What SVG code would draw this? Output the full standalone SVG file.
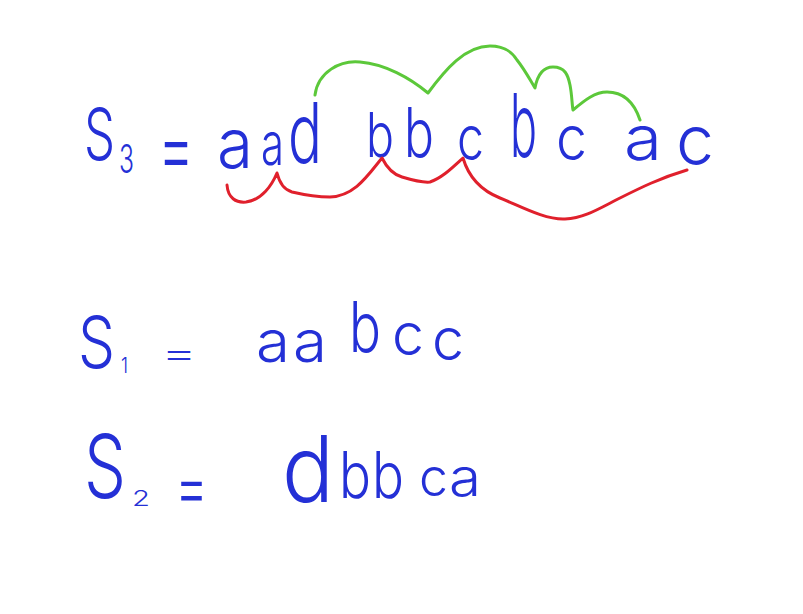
<svg xmlns="http://www.w3.org/2000/svg" width="803" height="614" viewBox="0 0 803 614">
<style>
text{font-family:Inter,"Liberation Sans",sans-serif;font-weight:300;fill:#2430d6}
.g{fill:none;stroke:#5cc83a;stroke-width:3;stroke-linecap:round;stroke-linejoin:round}
.r{fill:none;stroke:#e0202c;stroke-width:3;stroke-linecap:round;stroke-linejoin:round}
</style>
<rect width="803" height="614" fill="#ffffff"/>
<g id="s3">
<text x="84" y="160" font-size="72" textLength="31" lengthAdjust="spacingAndGlyphs">S</text>
<text x="119" y="173" font-size="40" textLength="15" lengthAdjust="spacingAndGlyphs">3</text>
<text x="158" y="178" font-size="86" textLength="36" lengthAdjust="spacingAndGlyphs">=</text>
<text x="217" y="168" font-size="70" textLength="36" lengthAdjust="spacingAndGlyphs">a</text>
<text x="261" y="165" font-size="60" textLength="23" lengthAdjust="spacingAndGlyphs">a</text>
<text x="288" y="163" font-size="84" textLength="34" lengthAdjust="spacingAndGlyphs">d</text>
<text x="366" y="157" font-size="62" textLength="28" lengthAdjust="spacingAndGlyphs">b</text>
<text x="404" y="157" font-size="68" textLength="30" lengthAdjust="spacingAndGlyphs">b</text>
<text x="457" y="160" font-size="62" textLength="27" lengthAdjust="spacingAndGlyphs">c</text>
<text x="510" y="157" font-size="88" textLength="27" lengthAdjust="spacingAndGlyphs">b</text>
<text x="556" y="160" font-size="62" textLength="31" lengthAdjust="spacingAndGlyphs">c</text>
<text x="624" y="160" font-size="62" textLength="38" lengthAdjust="spacingAndGlyphs">a</text>
<text x="676" y="165" font-size="70" textLength="38" lengthAdjust="spacingAndGlyphs">c</text>
</g>
<g id="arcs">
<path class="g" d="M315,95 C318,72 340,60 360,62 C385,64 410,78 428,93 C445,70 465,46 490,46 C505,46 512,52 517,60 C525,70 530,80 535,88 C538,72 545,67 553,67 C565,67 568,75 570,85 C572,95 572,105 573,110 C585,100 595,92 607,92 C625,92 635,105 640,120"/>
<path class="r" d="M227,185 C228,198 236,203 246,202 C262,200 272,185 277,173 C280,185 285,190 292,192 C305,195 320,197 330,197 C355,196 368,175 382,158 C388,170 395,175 402,177 C412,180 422,183 430,182 C442,178 452,168 463,158 C468,175 480,190 500,198 C520,206 545,220 565,219 C585,218 600,208 620,198 C640,188 660,178 687,170"/>
</g>
<g id="s1">
<text x="78" y="368" font-size="72" textLength="37" lengthAdjust="spacingAndGlyphs">S</text>
<text x="121" y="373" font-size="22" textLength="7" lengthAdjust="spacingAndGlyphs">1</text>
<text x="161" y="365" font-size="34" textLength="36" lengthAdjust="spacingAndGlyphs">=</text>
<text x="256" y="362" font-size="58" textLength="34" lengthAdjust="spacingAndGlyphs">a</text>
<text x="293" y="362" font-size="58" textLength="34" lengthAdjust="spacingAndGlyphs">a</text>
<text x="349" y="352" font-size="70" textLength="32" lengthAdjust="spacingAndGlyphs">b</text>
<text x="392" y="355" font-size="58" textLength="32" lengthAdjust="spacingAndGlyphs">c</text>
<text x="432" y="360" font-size="58" textLength="32" lengthAdjust="spacingAndGlyphs">c</text>
</g>
<g id="s2">
<text x="84" y="498" font-size="88" textLength="42" lengthAdjust="spacingAndGlyphs">S</text>
<text x="132" y="506" font-size="22" textLength="18" lengthAdjust="spacingAndGlyphs">2</text>
<text x="175" y="511" font-size="71" textLength="33" lengthAdjust="spacingAndGlyphs">=</text>
<text x="282" y="502" font-size="92" textLength="52" lengthAdjust="spacingAndGlyphs">d</text>
<text x="339" y="498" font-size="64" textLength="32" lengthAdjust="spacingAndGlyphs">b</text>
<text x="372" y="498" font-size="64" textLength="32" lengthAdjust="spacingAndGlyphs">b</text>
<text x="419" y="496" font-size="52" textLength="29" lengthAdjust="spacingAndGlyphs">c</text>
<text x="449" y="496" font-size="52" textLength="32" lengthAdjust="spacingAndGlyphs">a</text>
</g>
</svg>
